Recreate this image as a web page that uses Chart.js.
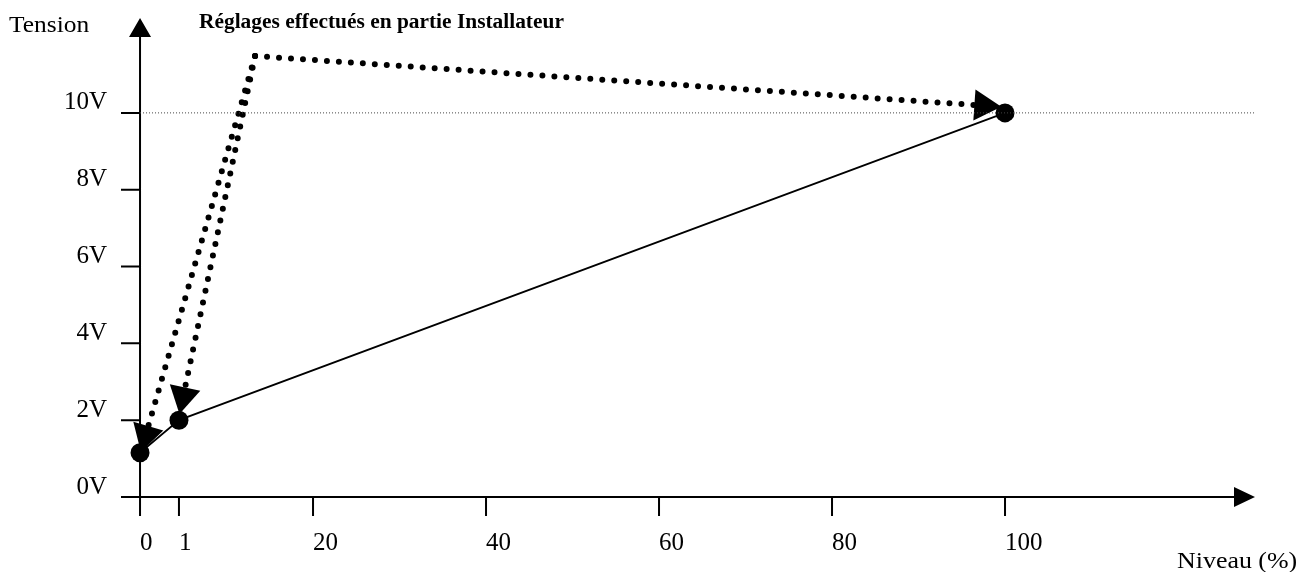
<!DOCTYPE html>
<html>
<head>
<meta charset="utf-8">
<script src="https://cdn.jsdelivr.net/npm/chart.js@4/dist/chart.umd.min.js"></script>
<style>
  body { margin: 0; background: #fff; }
  #wrap { width: 1301px; height: 572px; }
</style>
</head>
<body>
<div id="wrap"><canvas id="chart" width="1301" height="572"></canvas></div>
<script>
// solid curve: Niveau (%) -> Tension (V)
const levelX = [0, 4.5, 100];
const voltY = [1.15, 2, 10];

// dotted adjustment path (corner, then arrow ends)
const cornerX = 13.3;
const cornerY = 11.48;
const arrowEndX = [0.67, 4.99, 97.5];
const arrowEndY = [1.62, 2.62, 10.19];

// axis ticks
const xTickValues = [0, 4.5, 20, 40, 60, 80, 100];
const xTickLabels = ["0", "1", "20", "40", "60", "80", "100"];
const yTickValues = [0, 2, 4, 6, 8, 10];
const refLineY = 10;

const serif = "'Liberation Serif', 'Times New Roman', serif";

function arrowAngle(ctx) {
  const d = ctx.dataset.data;
  const i = ctx.dataIndex;
  if (i === 0) return 0;
  const xs = ctx.chart.scales.x;
  const ys = ctx.chart.scales.y;
  const dx = xs.getPixelForValue(d[i].x) - xs.getPixelForValue(d[i - 1].x);
  const dy = ys.getPixelForValue(d[i].y) - ys.getPixelForValue(d[i - 1].y);
  return (Math.atan2(dy, dx) * 180) / Math.PI + 90;
}

const dottedSets = arrowEndX.map((x, i) => ({
  data: [
    { x: cornerX, y: cornerY },
    { x: x, y: arrowEndY[i] },
  ],
  showLine: true,
  borderColor: "#000",
  borderWidth: 6,
  borderDash: [0, 12],
  borderCapStyle: "round",
  backgroundColor: "#000",
  pointStyle: "triangle",
  pointRadius: (c) => (c.dataIndex === 1 ? 18 : 0),
  pointRotation: arrowAngle,
  pointBorderWidth: 0,
  clip: false,
}));

// no label padding around the plot, the axes are drawn by hand
function noPad(s) {
  s.paddingTop = 0;
  s.paddingBottom = 0;
  s.paddingLeft = 0;
  s.paddingRight = 0;
}

// axes with arrows, tick marks, free texts
const axesPlugin = {
  id: "axes",
  beforeDatasetsDraw(chart) {
    const { ctx, chartArea, scales } = chart;
    const x0 = scales.x.getPixelForValue(0);
    const y0 = scales.y.getPixelForValue(0);
    ctx.save();
    ctx.strokeStyle = "#000";
    ctx.fillStyle = "#000";
    ctx.lineWidth = 2;
    ctx.beginPath();
    ctx.moveTo(chartArea.left, y0);
    ctx.lineTo(chartArea.right - 20, y0);
    ctx.moveTo(x0, chartArea.bottom);
    ctx.lineTo(x0, chartArea.top + 19);
    xTickValues.forEach((v) => {
      const px = scales.x.getPixelForValue(v);
      ctx.moveTo(px, y0);
      ctx.lineTo(px, chartArea.bottom);
    });
    yTickValues.forEach((v) => {
      const py = scales.y.getPixelForValue(v);
      ctx.moveTo(chartArea.left, py);
      ctx.lineTo(x0, py);
    });
    ctx.stroke();
    // arrow heads
    ctx.beginPath();
    ctx.moveTo(chartArea.right, y0);
    ctx.lineTo(chartArea.right - 21, y0 - 10);
    ctx.lineTo(chartArea.right - 21, y0 + 10);
    ctx.closePath();
    ctx.moveTo(x0, chartArea.top);
    ctx.lineTo(x0 - 11, chartArea.top + 19);
    ctx.lineTo(x0 + 11, chartArea.top + 19);
    ctx.closePath();
    ctx.fill();
    ctx.restore();
  },
  afterDraw(chart) {
    const ctx = chart.ctx;
    const label = (text, x, y, font, sx) => {
      ctx.save();
      ctx.font = font;
      ctx.fillStyle = "#000";
      ctx.textBaseline = "alphabetic";
      ctx.translate(x, y);
      ctx.scale(sx, 1);
      ctx.fillText(text, 0, 0);
      ctx.restore();
    };
    label("Tension", 9, 32, "24px " + serif, 1.06);
    label("Réglages effectués en partie Installateur", 199, 28, "bold 20px " + serif, 1.07);
    label("Niveau (%)", 1177, 568, "24px " + serif, 1.08);
  },
};

new Chart(document.getElementById("chart"), {
  type: "scatter",
  data: {
    datasets: [
      {
        data: [
          { x: 0, y: refLineY },
          { x: 128.9, y: refLineY },
        ],
        showLine: true,
        borderColor: "#444",
        borderWidth: 1,
        borderDash: [1, 2],
        pointRadius: 0,
      },
      {
        data: levelX.map((x, i) => ({ x: x, y: voltY[i] })),
        showLine: true,
        borderColor: "#000",
        borderWidth: 1.8,
        backgroundColor: "#000",
        pointRadius: 9.5,
        pointBorderWidth: 0,
        clip: false,
      },
      ...dottedSets,
    ],
  },
  options: {
    responsive: false,
    animation: false,
    devicePixelRatio: 1,
    layout: { autoPadding: false, padding: { top: 18, right: 46, left: 0, bottom: 0 } },
    plugins: { legend: { display: false }, tooltip: { enabled: false } },
    scales: {
      x: {
        type: "linear",
        min: -2.2,
        max: 128.9,
        grid: { display: false, drawTicks: false },
        border: { display: false },
        afterBuildTicks: (s) => {
          s.ticks = xTickValues.map((v) => ({ value: v }));
        },
        afterFit: (s) => {
          s.height = 56;
          noPad(s);
        },
        ticks: {
          align: "start",
          padding: 12,
          color: "#000",
          font: { family: serif, size: 25 },
          callback: (v, i) => xTickLabels[i],
        },
      },
      y: {
        type: "linear",
        min: -0.495,
        max: 12.47,
        grid: { display: false, drawTicks: false },
        border: { display: false },
        afterBuildTicks: (s) => {
          s.ticks = yTickValues.map((v) => ({ value: v }));
        },
        afterFit: (s) => {
          s.width = 121;
          noPad(s);
        },
        ticks: {
          padding: 14,
          labelOffset: -10,
          color: "#000",
          font: { family: serif, size: 25 },
          callback: (v) => v + "V",
        },
      },
    },
  },
  plugins: [axesPlugin],
});
</script>
</body>
</html>
